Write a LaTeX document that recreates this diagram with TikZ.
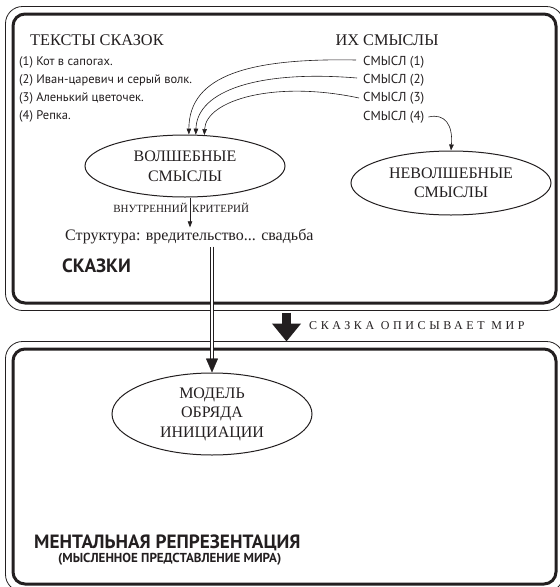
\documentclass[tikz,border=0pt]{standalone}
\usepackage{fontspec}
\setmainfont{Liberation Serif}
\newfontfamily\ptsans{PT Sans}
\usetikzlibrary{arrows.meta,shapes.geometric,calc}
\definecolor{ink}{HTML}{231F20}
\tikzset{
  frame/.style={draw=ink, line width=3pt, rounded corners=12pt, inner sep=0pt},
  thinframe/.style={draw=ink, line width=0.8pt, rounded corners=17pt},
  oval/.style={ellipse, draw=ink, line width=1pt, inner sep=0pt, align=center, text=ink},
  arr/.style={draw=ink, line width=0.6pt, -{Triangle[length=6pt,width=4.5pt]}},
  serifhead/.style={font=\fontsize{16.3}{19}\selectfont, text=ink, inner sep=1pt},
  listitem/.style={font=\ptsans\fontsize{12.5}{14}\selectfont, text=ink, inner sep=1pt, anchor=west},
  meaning/.style={font=\ptsans\fontsize{13}{14}\selectfont, text=ink, inner sep=1pt, anchor=west},
  crit/.style={font=\fontsize{11}{12}\selectfont, text=ink, inner sep=0pt},
  boldlabel/.style={font=\ptsans\bfseries\fontsize{19.2}{22}\selectfont, text=ink, inner sep=0pt, anchor=west}
}
\begin{document}
\begin{tikzpicture}[x=1pt,y=-1pt]
\useasboundingbox (0,0) rectangle (560,587);
\fill[white] (0,0) rectangle (560,587);

% frames
\node[frame, minimum width=543pt, minimum height=289pt] (top) at (284.5,158.5) {};
\draw[thinframe] ($(top.north west)+(-6,-6)$) rectangle ($(top.south east)+(6,6)$);
\node[frame, minimum width=543pt, minimum height=235pt] (bot) at (284.5,466.5) {};
\draw[thinframe] ($(bot.north west)+(-6,-6)$) rectangle ($(bot.south east)+(6,6)$);

% headings
\node[serifhead, anchor=west] (tt) at (29,40) {ТЕКСТЫ СКАЗОК};
\node[serifhead] (ih) at (387,40) {ИХ СМЫСЛЫ};

% list
\node[listitem] (t1) at (18,62) {(1) Кот в сапогах.};
\node[listitem] (t2) at (18,80) {(2) Иван-царевич и серый волк.};
\node[listitem] (t3) at (18,98) {(3) Аленький цветочек.};
\node[listitem] (t4) at (18,116) {(4) Репка.};

\node[meaning] (s1) at (362,62) {СМЫСЛ (1)};
\node[meaning] (s2) at (362,80) {СМЫСЛ (2)};
\node[meaning] (s3) at (362,98) {СМЫСЛ (3)};
\node[meaning] (s4) at (362,117) {СМЫСЛ (4)};

% ellipses
\node[oval, minimum width=200pt, minimum height=62pt, font=\fontsize{16}{20}\selectfont] (w) at (185,166) {ВОЛШЕБНЫЕ\\СМЫСЛЫ};
\node[oval, minimum width=200pt, minimum height=64pt, font=\fontsize{16}{19}\selectfont] (n) at (451,183) {НЕВОЛШЕБНЫЕ\\СМЫСЛЫ};
\node[oval, minimum width=200pt, minimum height=82pt, font=\fontsize{16}{19.5}\selectfont] (m) at (212,414) {МОДЕЛЬ\\ОБРЯДА\\ИНИЦИАЦИИ};

% arrows from meanings
\draw[arr] ($(s1.west)+(-6,-2)$) .. controls (250,58) and (189,75) .. (w.83);
\draw[arr] ($(s2.west)+(-5,-2)$) .. controls (260,70) and (197,90) .. (w.71);
\draw[arr] ($(s3.west)+(-3,0)$) .. controls (275,80) and (206,100) .. (w.58);
\draw[arr] ($(s4.east)+(3,0)$) .. controls (445,113) and (453,125) .. (n.north);

% criterion
\node[crit, anchor=east] (c1) at (188,208) {ВНУТРЕННИЙ};
\node[crit, anchor=west] (c2) at (192,208) {КРИТЕРИЙ};
\node[font=\fontsize{16}{18}\selectfont, text=ink, anchor=west, inner sep=1pt] (st) at (64,236) {Структура: вредительство... свадьба};
\coordinate (wa) at ($(w.south)+(5,0)$);
\draw[arr] (wa) -- (wa |- st.north);

\node[boldlabel] (sk) at (62,266) {СКАЗКИ};

% double line to model
\coordinate (da) at ($(m.north |- st.south)+(0,2)$);
\draw[draw=ink, double, double distance=2.2pt, line width=0.6pt, shorten >=13pt] (da) -- (m.north);
\draw[draw=ink, fill=ink, -{Triangle[length=14pt,width=12pt]}] ($(m.north)+(0,-14)$) -- (m.north);

% big arrow
\coordinate (ba) at ($(top.south)+(2,8)$);
\coordinate (bb) at ($(bot.north)+(2,-6)$);
\draw[draw=ink, line width=9pt, -{Triangle[length=18pt,width=28pt]}] (ba) -- (bb);
\node[font=\addfontfeature{LetterSpace=30}\fontsize{12}{14}\selectfont, text=ink, anchor=west, inner sep=0pt] (lab) at (309,326) {СКАЗКА ОПИСЫВАЕТ МИР};

% bottom labels
\node[boldlabel] (mr) at (34,543) {МЕНТАЛЬНАЯ РЕПРЕЗЕНТАЦИЯ};
\node[font=\ptsans\bfseries\fontsize{13}{14}\selectfont, text=ink, inner sep=0pt, anchor=west] (ms) at (58,559) {(МЫСЛЕННОЕ ПРЕДСТАВЛЕНИЕ МИРА)};
\end{tikzpicture}
\end{document}
